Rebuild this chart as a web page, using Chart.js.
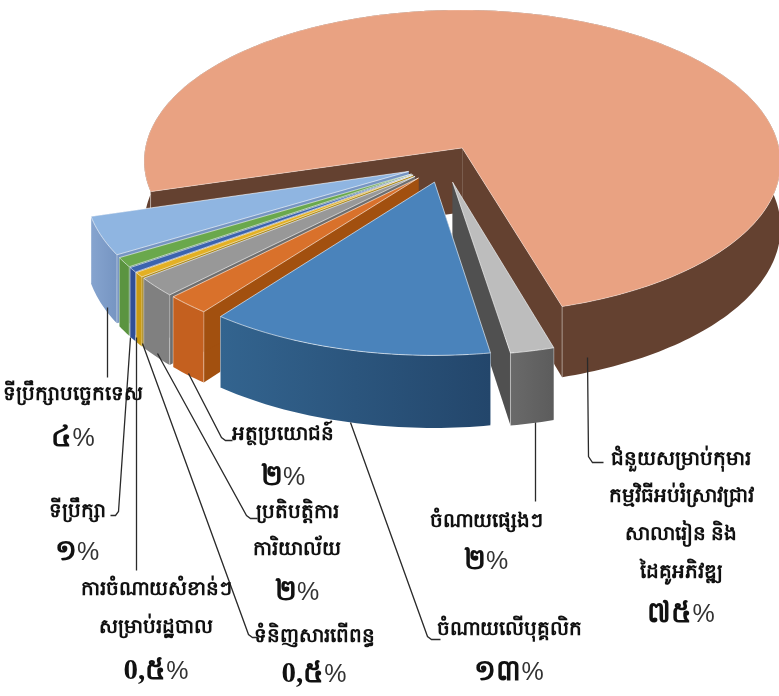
<!DOCTYPE html>
<html lang="km">
<head>
  <meta charset="UTF-8">
  <title>Pie</title>
  <style>
    body { margin: 0; background: #fff; }
    canvas { display: block; }
  </style>
  <script src="https://cdn.jsdelivr.net/npm/chart.js"></script>
</head>
<body>
  <canvas id="pie" width="779" height="696"></canvas>
  <script>
    const categories = [
      'ជំនួយសម្រាប់កុមារ\nកម្មវិធីអប់រំស្រាវជ្រាវ\nសាលារៀន និង\nដៃគូអភិវឌ្ឍ',
      'ចំណាយផ្សេងៗ',
      'ចំណាយលើបុគ្គលិក',
      'អត្ថប្រយោជន៍',
      'ប្រតិបត្តិការ\nការិយាល័យ',
      'ទំនិញសារពើពន្ធ',
      'ការចំណាយសំខាន់ៗ\nសម្រាប់រដ្ឋបាល',
      'ទីប្រឹក្សា',
      'ទីប្រឹក្សាបច្ចេកទេស'
    ];
    const values = [75, 2, 13, 2, 2, 0.5, 0.5, 1, 4];
    const percentLabels = ['៧៥', '២', '១៣', '២', '២', '0,៥', '0,៥', '១', '៤'];

    const topColors = ['#e9a282', '#bdbdbd', '#4a83bb', '#d9712b', '#989898', '#e3b024', '#3b63ae', '#6aa84c', '#8fb5e1'];
    const outerWalls = [
      ['#644130', '#644130'], ['#6a6a6a', '#5c5c5c'], ['#33648f', '#23466b'], ['#c4601f', '#c4601f'], ['#808080', '#808080'],
      ['#c89a14', '#c89a14'], ['#2f4f96', '#2f4f96'], ['#5b9440', '#5b9440'], ['#86a4cf', '#7695c2']
    ];
    const innerWalls = ['#644130', '#505050', '#2b5580', '#a2500f', '#6e6e6e', '#a8840f', '#2c4886', '#3f7a5a', '#7695c2'];
    // back to front
    const paintOrder = [0, 8, 7, 6, 5, 4, 3, 1, 2];

    // label layout: text centre x, line y's, percent y, leader polyline
    const layout = [
      { x: 681, ys: [460, 497, 535, 573], py: 615, leader: [[587, 357], [588, 456], [592, 462], [603, 462]] },
      { x: 486, ys: [522], py: 562, leader: [[535, 422], [535, 501]] },
      { x: 509, ys: [630], py: 673, leader: [[350, 422], [427, 636], [431, 639], [440, 639]] },
      { x: 283, ys: [435], py: 478, leader: [[188, 373], [221, 437], [225, 440], [232, 440]] },
      { x: 297, ys: [513, 550], py: 593, leader: [[157, 353], [246, 515], [250, 518], [257, 518]] },
      { x: 314, ys: [637], py: 675, leader: [[142, 343], [248, 634], [252, 637], [258, 637]] },
      { x: 156, ys: [590, 628], py: 672, leader: [[136, 337], [136, 570]] },
      { x: 77, ys: [512], py: 553, leader: [[130, 337], [118, 511], [115, 515], [110, 515]] },
      { x: 73, ys: [395], py: 439, leader: [[107, 307], [107, 377]] }
    ];

    // perspective of the pie plane
    const originX = 444, originY = 164, scaleX = 320, scaleY = 153.7, persp = 0.0928, wallDepth = 65;

    function project(u, v) {
      const f = 1 / (1 - persp * v);
      return { x: originX + scaleX * u * f, y: originY + scaleY * v * f, d: wallDepth * f };
    }

    function sliceOutline(arc) {
      const { startAngle, endAngle, outerRadius } = arc.getProps(['startAngle', 'endAngle', 'outerRadius'], true);
      const mid = (startAngle + endAngle) / 2;
      const off = arc.options.offset / outerRadius;
      const cu = Math.cos(mid) * off, cv = Math.sin(mid) * off;
      const steps = Math.max(2, Math.ceil((endAngle - startAngle) / 0.02));
      const rim = [];
      for (let i = 0; i <= steps; i++) {
        const a = startAngle + (endAngle - startAngle) * i / steps;
        rim.push(project(cu + Math.cos(a), cv + Math.sin(a)));
      }
      return { apex: project(cu, cv), rim };
    }

    function fillWall(ctx, points, color) {
      ctx.fillStyle = color;
      ctx.beginPath();
      points.forEach((p, k) => k ? ctx.lineTo(p.x, p.y) : ctx.moveTo(p.x, p.y));
      for (let k = points.length - 1; k >= 0; k--) ctx.lineTo(points[k].x, points[k].y + points[k].d);
      ctx.closePath();
      ctx.fill();
    }

    function drawSlice(ctx, arc, i) {
      const { apex, rim } = sliceOutline(arc);
      const first = rim[0], last = rim[rim.length - 1];
      const xs = rim.map(p => p.x);
      const grad = ctx.createLinearGradient(Math.min(...xs), 0, Math.max(...xs), 0);
      grad.addColorStop(0, outerWalls[i][0]);
      grad.addColorStop(1, outerWalls[i][1]);

      fillWall(ctx, [apex, first], innerWalls[i]);
      fillWall(ctx, [last, apex], innerWalls[i]);
      fillWall(ctx, rim, grad);

      ctx.beginPath();
      ctx.moveTo(apex.x, apex.y);
      rim.forEach(p => ctx.lineTo(p.x, p.y));
      ctx.closePath();
      ctx.fillStyle = topColors[i];
      ctx.fill();
      ctx.strokeStyle = i === 0 ? 'rgba(255,255,255,0.35)' : 'rgba(255,255,255,0.6)';
      ctx.lineWidth = 1;
      ctx.stroke();

      // pale seam down the front corners
      ctx.strokeStyle = 'rgba(255,255,255,0.4)';
      [first, last].forEach(p => {
        ctx.beginPath();
        ctx.moveTo(p.x, p.y);
        ctx.lineTo(p.x, p.y + p.d);
        ctx.stroke();
      });
    }

    function drawLabels(ctx) {
      ctx.textBaseline = 'middle';
      layout.forEach((l, i) => {
        ctx.strokeStyle = '#2a2a2a';
        ctx.lineWidth = 1.3;
        ctx.beginPath();
        l.leader.forEach((p, k) => k ? ctx.lineTo(p[0] + 0.5, p[1] + 0.5) : ctx.moveTo(p[0] + 0.5, p[1] + 0.5));
        ctx.stroke();

        ctx.fillStyle = '#111';
        ctx.textAlign = 'center';
        ctx.font = "bold 20px 'Liberation Serif', serif";
        categories[i].split('\n').forEach((line, n) => ctx.fillText(line, l.x, l.ys[n]));

        // number in heavy type, % sign lighter
        ctx.textAlign = 'left';
        const numFont = "bold 29px 'Liberation Serif', serif";
        const pctFont = "25px 'Liberation Sans', sans-serif";
        ctx.font = numFont;
        const nw = ctx.measureText(percentLabels[i]).width;
        ctx.font = pctFont;
        const pw = ctx.measureText('%').width;
        const start = l.x - (nw + pw) / 2;
        ctx.font = numFont;
        ctx.fillText(percentLabels[i], start, l.py);
        ctx.font = pctFont;
        ctx.fillStyle = '#333';
        ctx.fillText('%', start + nw, l.py);
      });
    }

    const pie3d = {
      id: 'pie3d',
      beforeDatasetDraw(chart, args) {
        const ctx = chart.ctx;
        const arcs = args.meta.data;
        ctx.save();
        paintOrder.forEach(i => drawSlice(ctx, arcs[i], i));
        ctx.restore();
        return false;
      },
      afterDraw(chart) {
        const ctx = chart.ctx;
        ctx.save();
        drawLabels(ctx);
        ctx.restore();
      }
    };

    new Chart(document.getElementById('pie'), {
      type: 'pie',
      data: {
        labels: categories,
        datasets: [{ data: values, backgroundColor: topColors, offset: 36, borderWidth: 0 }]
      },
      options: {
        responsive: false,
        animation: false,
        radius: 300,
        rotation: 253.6,
        plugins: { legend: { display: false }, tooltip: { enabled: false } }
      },
      plugins: [pie3d]
    });
  </script>
</body>
</html>
